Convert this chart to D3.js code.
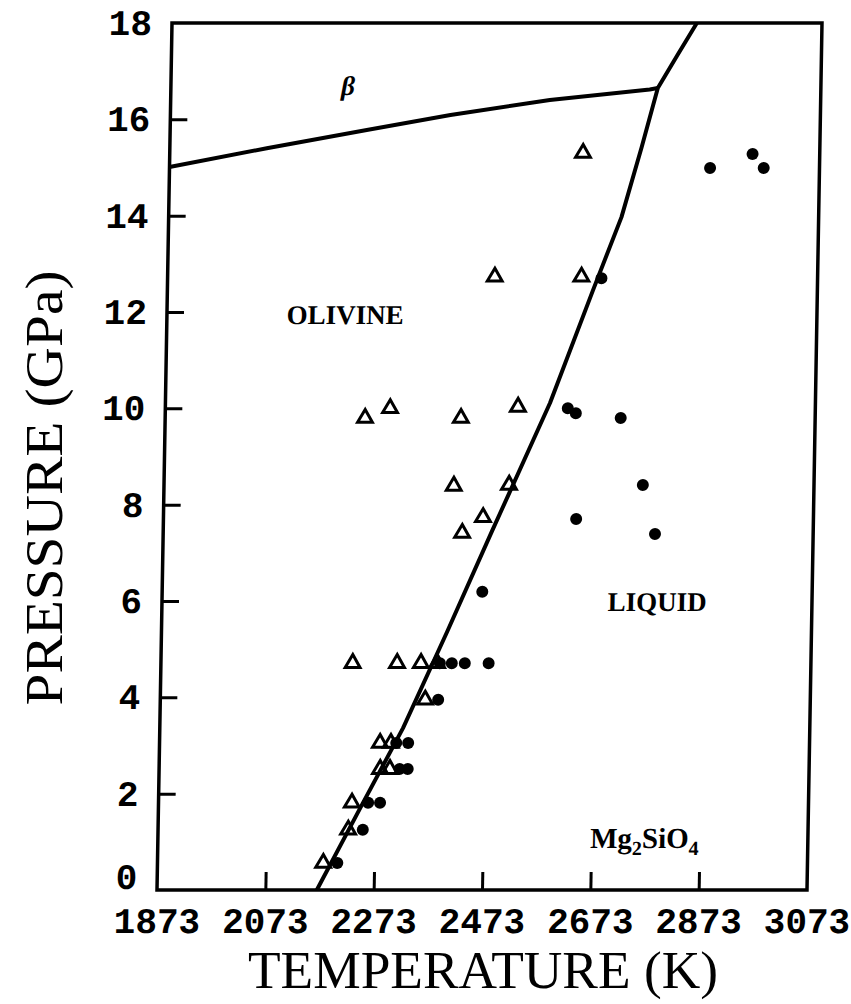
<!DOCTYPE html>
<html>
<head>
<meta charset="UTF-8">
<script src="https://cdn.jsdelivr.net/npm/d3@7"></script>
<style>
	body { margin: 0; background: #fff; }
	.frame { fill: none; stroke: #000; stroke-width: 3.5; }
	.curve { fill: none; stroke: #000; stroke-width: 4; stroke-linejoin: round; }
	.tick line { stroke: #000; stroke-width: 3; }
	.tick text { font-family: "Liberation Mono", monospace; font-weight: bold; font-size: 36px; fill: #000; }
	.label { font-family: "Liberation Serif", serif; font-weight: bold; font-size: 27px; }
	.title { font-family: "Liberation Serif", serif; font-size: 52px; }
</style>
</head>
<body>
<script>
// axis ticks
const xTicks = [1873, 2073, 2273, 2473, 2673, 2873, 3073];
const yTicks = [0, 2, 4, 6, 8, 10, 12, 14, 16, 18];

// melting curve (K, GPa)
const meltT = [2168, 2250, 2322, 2400, 2480, 2583, 2659, 2709, 2744, 2772, 2807, 2842];
const meltP = [0, 1.8, 3.36, 5.35, 7.45, 10.11, 12.46, 13.97, 15.42, 16.65, 17.33, 18.0];

// olivine / beta boundary
const betaT = [1873, 2052, 2236, 2390, 2573, 2757, 2772];
const betaP = [15.01, 15.40, 15.78, 16.09, 16.4, 16.62, 16.65];

// open triangles: solid (olivine) run products
const solidT = [2636, 2477, 2637, 2242, 2288, 2419, 2524, 2408, 2510, 2463, 2425,
	2227, 2309, 2353, 2383, 2362, 2280, 2300, 2281, 2299, 2230, 2224, 2179];
const solidP = [15.3, 12.73, 12.73, 9.8, 10.0, 9.8, 10.03, 8.39, 8.41, 7.74, 7.41,
	4.71, 4.71, 4.71, 4.71, 3.95, 3.05, 3.05, 2.51, 2.51, 1.81, 1.25, 0.56];

// filled circles: liquid run products
const liquidT = [2674, 2871, 2949, 2970, 2616, 2631, 2714, 2757, 2635, 2781, 2464,
	2388, 2410, 2434, 2478, 2386, 2310, 2332, 2317, 2332, 2260, 2282, 2251, 2205];
const liquidP = [12.7, 14.99, 15.28, 14.99, 10.0, 9.9, 9.8, 8.41, 7.7, 7.39, 6.19,
	4.71, 4.71, 4.71, 4.71, 3.95, 3.05, 3.05, 2.51, 2.51, 1.81, 1.81, 1.25, 0.56];

const width = 851, height = 1004;
const plotW = 650, plotH = 867;
// the scanned figure leans slightly: top edge sits ~15px right of the bottom edge
const skew = Math.atan(-15 / plotH) * 180 / Math.PI;

const svg = d3.select('body').append('svg')
	.attr('width', width)
	.attr('height', height);

const g = svg.append('g')
	.attr('transform', `translate(172,23) skewX(${skew})`);

const x = d3.scaleLinear().domain([1873, 3073]).range([0, plotW]);
const y = d3.scaleLinear().domain([0, 18]).range([plotH, 0]);

// axes
const xAxis = g.append('g')
	.attr('transform', `translate(0,${plotH})`)
	.call(d3.axisBottom(x).tickValues(xTicks).tickFormat(d3.format('d'))
		.tickSize(-18).tickSizeOuter(0).tickPadding(17));
const yAxis = g.append('g')
	.call(d3.axisLeft(y).tickValues(yTicks).tickFormat(d3.format('d'))
		.tickSize(-17).tickSizeOuter(0).tickPadding(20));

[xAxis, yAxis].forEach(a => {
	a.attr('font-family', null).attr('font-size', null);
	a.select('.domain').remove();
});
xAxis.selectAll('.tick line').filter(d => d === 1873 || d === 3073).remove();
yAxis.selectAll('.tick line').filter(d => d === 0 || d === 18).remove();
// the "0" sits a little higher so it clears the 1873 below it
yAxis.selectAll('.tick text').filter(d => d === 0).attr('dy', '-0.05em');

g.append('rect')
	.attr('class', 'frame')
	.attr('x', 0).attr('y', 0)
	.attr('width', plotW).attr('height', plotH);

// phase boundaries
const line = d3.line().x(d => x(d[0])).y(d => y(d[1]));
g.append('path')
	.attr('class', 'curve')
	.attr('d', line(meltT.map((t, i) => [t, meltP[i]])));
g.append('path')
	.attr('class', 'curve')
	.attr('d', line(betaT.map((t, i) => [t, betaP[i]])));

// data points
const tri = d3.symbol().type(d3.symbolTriangle).size(95);
g.append('g').selectAll('path')
	.data(solidT.map((t, i) => [t, solidP[i]]))
	.enter().append('path')
	.attr('d', tri)
	.attr('transform', d => `translate(${x(d[0])},${y(d[1])})`)
	.attr('fill', 'none')
	.attr('stroke', '#000')
	.attr('stroke-width', 3);

g.append('g').selectAll('circle')
	.data(liquidT.map((t, i) => [t, liquidP[i]]))
	.enter().append('circle')
	.attr('cx', d => x(d[0]))
	.attr('cy', d => y(d[1]))
	.attr('r', 6)
	.attr('fill', '#000');

// region labels
g.append('text').attr('class', 'label')
	.attr('x', x(2202)).attr('y', y(11.94)).attr('dy', '0.35em')
	.attr('text-anchor', 'middle')
	.text('OLIVINE');
g.append('text').attr('class', 'label')
	.attr('x', x(2787)).attr('y', y(5.98)).attr('dy', '0.35em')
	.attr('text-anchor', 'middle')
	.text('LIQUID');
g.append('text').attr('class', 'label')
	.attr('x', x(2200)).attr('y', y(16.7)).attr('dy', '0.35em')
	.attr('text-anchor', 'middle')
	.style('font-style', 'italic')
	.text('β');

const mg = g.append('text').attr('class', 'label')
	.attr('x', x(2671)).attr('y', y(0.87))
	.style('font-size', '29px');
mg.append('tspan').text('Mg');
mg.append('tspan').attr('dy', 7).style('font-size', '20px').text('2');
mg.append('tspan').attr('dy', -7).text('SiO');
mg.append('tspan').attr('dy', 7).style('font-size', '20px').text('4');

// axis titles
svg.append('text').attr('class', 'title')
	.attr('x', 483).attr('y', 988)
	.attr('text-anchor', 'middle')
	.attr('textLength', 470).attr('lengthAdjust', 'spacingAndGlyphs')
	.text('TEMPERATURE (K)');
svg.append('text').attr('class', 'title')
	.attr('transform', 'translate(62,488) rotate(-90)')
	.attr('text-anchor', 'middle')
	.attr('textLength', 435).attr('lengthAdjust', 'spacingAndGlyphs')
	.text('PRESSURE (GPa)');
</script>
</body>
</html>
